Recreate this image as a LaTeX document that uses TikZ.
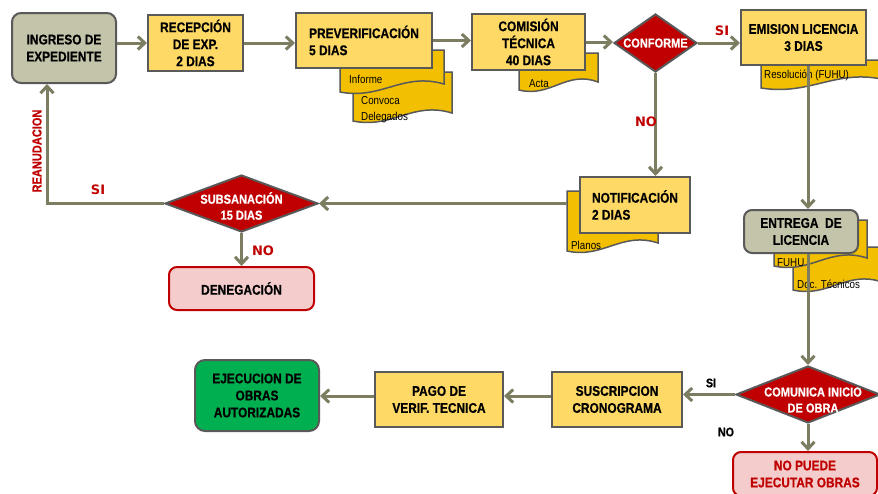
\documentclass[tikz,border=0pt]{standalone}
\usepackage{fontspec}
\newfontfamily\nar[FakeStretch=0.85,BoldFeatures={FakeBold=0.6}]{Liberation Sans}
\newfontfamily\dvs{DejaVu Sans}
\usetikzlibrary{shapes.geometric,arrows.meta,calc}
\definecolor{lncol}{RGB}{125,125,98}
\definecolor{bord}{RGB}{89,89,89}
\definecolor{ylw}{RGB}{255,217,102}
\definecolor{gold}{RGB}{242,192,0}
\definecolor{gry}{RGB}{196,196,170}
\definecolor{dred}{RGB}{192,0,0}
\definecolor{pnk}{RGB}{244,204,204}
\definecolor{grn}{RGB}{0,176,80}
\newcommand\docshape[4]{%
  \filldraw[docst] (#1,#2) -- (#3,#2) -- (#3,{#4-8})
    .. controls ({#3-0.4*(#3-#1)},{#4-20}) and ({#1+0.4*(#3-#1)},{#4+8}) .. (#1,#4) -- cycle;}
\begin{document}
\begin{tikzpicture}[x=1pt,y=-1pt,
  boxfont/.style={font=\nar\bfseries\fontsize{14}{17}\selectfont},
  ybox/.style={boxfont,draw=bord,line width=2pt,fill=ylw,inner sep=0pt,align=center},
  gbox/.style={boxfont,draw=bord,line width=2pt,fill=gry,inner sep=0pt,align=center,rounded corners=9pt},
  pbox/.style={boxfont,draw=dred,line width=2pt,fill=pnk,inner sep=0pt,align=center,rounded corners=8pt},
  dec/.style={diamond,draw=bord,line width=2pt,fill=dred,inner sep=0pt},
  dectext/.style={font=\nar\bfseries\fontsize{13}{16}\selectfont,text=white,align=center},
  docst/.style={draw=bord,line width=1.5pt,fill=gold},
  doctext/.style={font=\nar\fontsize{11.5}{16}\selectfont,anchor=west,inner sep=0pt,align=left},
  arr/.style={draw=lncol,line width=3pt,-{Straight Barb[length=7pt,width=13pt]}},
  rlab/.style={font=\dvs\bfseries\fontsize{13}{15}\selectfont,text=dred},
  klab/.style={font=\nar\bfseries\fontsize{12.5}{15}\selectfont,text=black}]
\useasboundingbox[fill=white] (0,0) rectangle (878,493);

% documents
\docshape{353}{72}{452}{121}
\docshape{340}{50}{444}{92}
\docshape{519}{53}{598}{90}
\docshape{761}{60}{886}{88}
\docshape{567}{191}{658}{251}
\docshape{793}{247}{882}{290}
\docshape{774}{220}{867}{266}
\node[doctext] (tinf) at (349,79) {Informe};
\node[doctext] (tconv) at (361,101) {Convoca};
\node[doctext] (tdel) at (361,118) {Delegados};
\node[doctext] (tacta) at (529,84) {Acta};
\node[doctext] (tres) at (764,75) {Resolución (FUHU)};
\node[doctext] (tpla) at (571,245) {Planos};
\node[doctext] (tfuhu) at (777,263) {FUHU};
\node[doctext] (tdoc) at (797,284) {Doc. Técnicos};

% boxes
\node[gbox,minimum width=104pt,minimum height=70pt] (ingreso) at (64,48) {INGRESO DE\\EXPEDIENTE};
\node[ybox,minimum width=95pt,minimum height=56pt] (recep) at (195.5,43) {RECEPCIÓN\\DE EXP.\\2 DIAS};
\node[ybox,minimum width=136pt,minimum height=55pt,align=left] (prever) at (364,40.5) {PREVERIFICACIÓN\\5 DIAS};
\node[ybox,minimum width=113pt,minimum height=56pt] (comis) at (528.5,42) {COMISIÓN\\TÉCNICA\\40 DIAS};
\node[dec,minimum width=83pt,minimum height=58pt] (conf) at (655.5,43) {};
\node[dectext] (tconf) at (conf) {CONFORME};
\node[ybox,minimum width=125pt,minimum height=55pt] (emis) at (803.5,37.5) {EMISION LICENCIA\\3 DIAS};
\node[ybox,minimum width=110pt,minimum height=56pt,align=left] (notif) at (635,205) {NOTIFICACIÓN\\2 DIAS};
\node[dec,minimum width=153pt,minimum height=57pt] (subs) at (241.5,203.5) {};
\node[dectext] (tsubs) at (241.5,206) {SUBSANACIÓN\\15 DIAS};
\node[pbox,minimum width=145pt,minimum height=43pt] (deneg) at (241.5,288.5) {DENEGACIÓN};
\node[gbox,minimum width=114pt,minimum height=43pt,rounded corners=8pt] (entrega) at (801,231.5) {ENTREGA\ \ DE\\LICENCIA};
\node[dec,minimum width=144pt,minimum height=57pt] (comu) at (808,394.5) {};
\node[dectext] (tcomu) at (813,400) {COMUNICA INICIO\\DE OBRA};
\node[pbox,minimum width=144pt,minimum height=44pt,text=dred] (nopuede) at (805,474) {NO PUEDE\\EJECUTAR OBRAS};
\node[ybox,minimum width=130pt,minimum height=55pt] (suscr) at (617,399.5) {SUSCRIPCION\\CRONOGRAMA};
\node[ybox,minimum width=128pt,minimum height=55pt] (pago) at (439,399.5) {PAGO DE\\VERIF. TECNICA};
\node[gbox,fill=grn,minimum width=124pt,minimum height=71pt,rounded corners=10pt] (ejec) at (257,395.5) {EJECUCION DE\\OBRAS\\AUTORIZADAS};

% helper coordinates
\coordinate (planosL) at (567,203.5);
\coordinate (rc) at (47,0);
\coordinate (row) at (0,396);

% connectors
\draw[arr] (ingreso.east |- recep.west) -- (recep.west);
\draw[arr] (recep.east) -- (recep.east -| prever.west);
\draw[arr] (prever.east) -- (prever.east -| comis.west);
\draw[arr] (comis.east) -- (comis.east -| conf.west);
\draw[arr] (conf.east) -- (conf.east -| emis.west);
\draw[arr] (conf.south) -- (conf.south |- notif.north);
\draw[arr] (planosL) -- (subs.east);
\draw[arr] (subs.west) -| (rc |- ingreso.south);
\draw[arr] (subs.south) -- (subs.south |- deneg.north);
\draw[arr] (emis.south -| comu.north) -- (entrega.north -| comu.north);
\draw[arr] (entrega.south -| comu.north) -- (comu.north);
\draw[arr] (comu.west) -- (comu.west -| suscr.east);
\draw[arr] (suscr.west |- row) -- (pago.east |- row);
\draw[arr] (pago.west |- row) -- (ejec.east |- row);
\draw[arr] (comu.south) -- (comu.south |- nopuede.north);

% labels
\node[rlab] (lsi1) at (722,31) {SI};
\node[rlab] (lno1) at (646,122) {NO};
\node[rlab] (lsi2) at (98,190) {SI};
\node[rlab] (lno2) at (263,251) {NO};
\node[font=\nar\bfseries\fontsize{13}{15}\selectfont,text=dred,rotate=90] (lre) at (37,151) {REANUDACION};
\node[klab] (lsi3) at (711,383) {SI};
\node[klab] (lno3) at (726,432) {NO};
\end{tikzpicture}
\end{document}
